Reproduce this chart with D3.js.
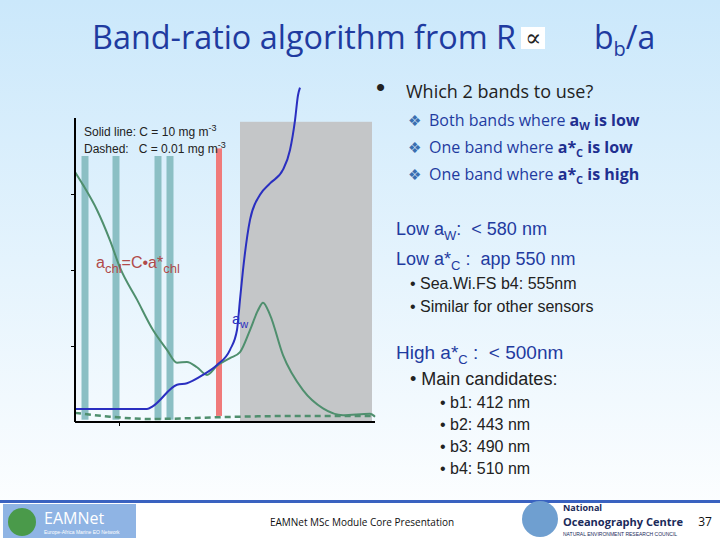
<!DOCTYPE html><html><head><meta charset="utf-8"><script src="https://cdn.jsdelivr.net/npm/d3@7"></script>
<style>body{margin:0}svg{display:block}</style></head><body><svg id="s" width="720" height="540"></svg>
<script>
const awL=[400,472,478,502,512,528,542,555,562,565,568,575,585,595,608,615,620,623,625];
const awV=[0.17,0.17,0.21,0.49,0.51,0.62,0.75,0.95,1.21,1.61,2.0,2.66,2.99,3.14,3.32,3.58,3.97,4.3,4.4];
const chlL=[400,408,422,435,445,462,478,492,502,512,522,532,542,555,565,575,583,588,595,608,628,648,668,695,700];
const chlV=[3.29,3.12,2.79,2.39,2.03,1.61,1.21,0.95,0.78,0.79,0.72,0.62,0.74,0.84,0.92,1.21,1.47,1.57,1.41,0.88,0.42,0.18,0.09,0.11,0.07];
const lowL=[400,435,475,565,625,700];
const lowV=[0.12,0.07,0.04,0.07,0.08,0.08];
const bands=[410,441,483,495];
const redBand=544;
const yTicks=[1,2,3];
const xTicks=[444];
const svg=d3.select("#s");
const defs=svg.append("defs");
const g=defs.append("linearGradient").attr("id","bg").attr("x1",0).attr("y1",0).attr("x2",0).attr("y2",1);
g.append("stop").attr("offset","0").attr("stop-color","#cbe8fb");
g.append("stop").attr("offset","1").attr("stop-color","#ffffff");
svg.append("rect").attr("width",720).attr("height",540).attr("fill","url(#bg)");
const x=d3.scaleLinear().domain([400,700]).range([75,375]);
const y=d3.scaleLinear().domain([0,4]).range([422,118]);
svg.append("rect").attr("x",x(565)).attr("y",y(3.95)).attr("width",x(697)-x(565)).attr("height",y(0)-y(3.95)).attr("fill","#c4c6c8");
svg.selectAll(".b").data(bands).join("rect").attr("x",d=>x(d)-3.5).attr("y",y(3.5)).attr("width",7).attr("height",y(0.03)-y(3.5)).attr("fill","#8bbfc4");
svg.append("rect").attr("x",x(redBand)-3).attr("y",y(3.6)).attr("width",6).attr("height",y(0.08)-y(3.6)).attr("fill","#f07a7a");
const ln=d3.line().curve(d3.curveMonotoneX);
const pts=(L,V)=>L.map((l,i)=>[x(l),y(V[i])]);
svg.append("path").attr("d",ln(pts(chlL,chlV))).attr("fill","none").attr("stroke","#4f8f6e").attr("stroke-width",2);
svg.append("path").attr("d",ln(pts(lowL,lowV))).attr("fill","none").attr("stroke","#4f8f6e").attr("stroke-width",2.5).attr("stroke-dasharray","6,4");
svg.append("path").attr("d",ln(pts(awL,awV))).attr("fill","none").attr("stroke","#2a2fc0").attr("stroke-width",2);
svg.append("g").attr("transform","translate(75,0)").call(d3.axisLeft(y).tickValues(yTicks).tickFormat("").tickSizeOuter(0).tickSize(4)).call(a=>a.select(".domain").attr("d","M0,118V422").attr("stroke-width",2));
svg.append("g").attr("transform","translate(0,422)").call(d3.axisBottom(x).tickValues(xTicks).tickFormat("").tickSizeOuter(0).tickSize(4)).call(a=>a.select(".domain").attr("d","M75,0H375").attr("stroke-width",2));
const F="Liberation Sans, Arial, sans-serif";
function t(xx,yy,s,sz,col,fam,anchor){return svg.append("text").attr("x",xx).attr("y",yy).attr("font-size",sz).attr("fill",col).attr("font-family",fam||F).attr("text-anchor",anchor||"start").html(s);}
t(84,136,'Solid line: C = 10 mg m<tspan dy="-5" font-size="9">-3</tspan>',12,"#222");
t(84,153,'Dashed:&#160;&#160; C = 0.01 mg m<tspan dy="-5" font-size="9">-3</tspan>',12,"#222");
t(96,268,'a<tspan dy="5" font-size="13">chl</tspan><tspan dy="-5">=C•a*</tspan><tspan dy="5" font-size="13">chl</tspan>',16,"#b04a4a");
t(232,324,'a<tspan dy="4" font-size="11">w</tspan>',15,"#2a2fc0");
t(92,49,'Band-ratio algorithm from R',32,"#1f3ba0","Open Sans, sans-serif").attr("textLength",424).attr("lengthAdjust","spacingAndGlyphs");
svg.append("rect").attr("x",521).attr("y",27).attr("width",24).attr("height",22).attr("fill","#fff");
t(533,46,'∝',24,"#222","Liberation Serif, DejaVu Serif","middle");
t(594,49,'b<tspan dy="7" font-size="20">b</tspan><tspan dy="-7">/a</tspan>',32,"#1f3ba0","Open Sans, sans-serif");
t(376,96,'•',26,"#222");
t(406,98,'Which 2 bands to use?',18,"#222","Open Sans, sans-serif");
const sub=[['Both bands where ','a<tspan dy="4" font-size="11">W</tspan><tspan dy="-4"> is low</tspan>'],['One band where ','a*<tspan dy="4" font-size="11">C</tspan><tspan dy="-4"> is low</tspan>'],['One band where ','a*<tspan dy="4" font-size="11">C</tspan><tspan dy="-4"> is high</tspan>']];
sub.forEach((s,i)=>{t(408,126+i*27,'❖',15,"#3a6fb0","DejaVu Sans");
 t(429,126+i*27,s[0]+'<tspan font-weight="bold" fill="#1f2f90">'+s[1]+'</tspan>',16,"#1f3ba0","Open Sans, sans-serif");});
t(396,235,'Low a<tspan dy="5" font-size="13">W</tspan><tspan dy="-5">:&#160; &lt; 580 nm</tspan>',18,"#1f3ba0");
t(396,265,'Low a*<tspan dy="5" font-size="13">C</tspan><tspan dy="-5"> :&#160; app 550 nm</tspan>',18,"#1f3ba0");
t(410,289,'• Sea.Wi.FS b4: 555nm',16,"#222");
t(410,312,'• Similar for other sensors',16,"#222");
t(396,359,'High a*<tspan dy="5" font-size="13">C</tspan><tspan dy="-5"> :&#160; &lt; 500nm</tspan>',19,"#1f3ba0");
t(410,385,'• Main candidates:',18,"#222");
["b1: 412 nm","b2: 443 nm","b3: 490 nm","b4: 510 nm"].forEach((s,i)=>t(440,408+i*22,'•&#160;'+s,16,"#222"));
svg.append("rect").attr("x",0).attr("y",502).attr("width",720).attr("height",38).attr("fill","#fff");
svg.append("rect").attr("x",0).attr("y",500).attr("width",720).attr("height",3).attr("fill","#3a62c0");
svg.append("rect").attr("x",3).attr("y",504).attr("width",133).attr("height",34).attr("fill","#8fb4e4");
svg.append("circle").attr("cx",22).attr("cy",522).attr("r",14).attr("fill","#4a9a4a");
t(44,524,'EAMNet',16,"#fff","Open Sans, sans-serif");
t(44,534,'Europe-Africa Marine EO Network',5,"#fff");
t(362,526,'EAMNet MSc Module Core Presentation',10,"#111","Open Sans, sans-serif","middle");
svg.append("circle").attr("cx",540).attr("cy",519).attr("r",18).attr("fill","#6f9fd0");
t(563,511,'National',9,"#1a2a5a","Open Sans, sans-serif").attr("font-weight","bold");
t(563,526,'Oceanography Centre',10,"#1a2a5a","Open Sans, sans-serif").attr("font-weight","bold").attr("textLength",120).attr("lengthAdjust","spacingAndGlyphs");
t(563,536,'NATURAL ENVIRONMENT RESEARCH COUNCIL',5,"#1a2a5a");
t(705,526,'37',12,"#111","Open Sans, sans-serif","middle");
</script></body></html>
